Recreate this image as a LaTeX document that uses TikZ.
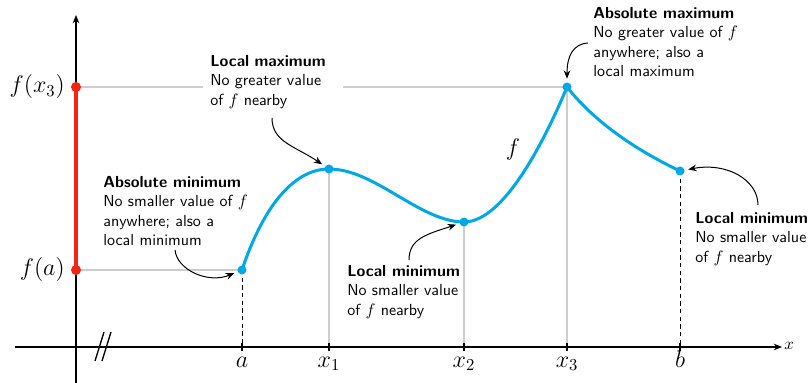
\documentclass[tikz,border=0pt]{standalone}
\usetikzlibrary{arrows.meta}
\definecolor{curvec}{RGB}{0,168,230}
\definecolor{guidec}{RGB}{205,205,205}
\definecolor{redc}{RGB}{245,35,20}
\begin{document}
\begin{tikzpicture}[x=0.6pt,y=-0.6pt,
  txt/.style={font=\sffamily\fontsize{9.6}{11.7}\selectfont, align=left, anchor=north west, inner sep=0pt},
  axis/.style={line width=1.2pt, -{Stealth[length=5pt,width=4pt]}},
  tick/.style={line width=1.2pt},
  guide/.style={guidec, line width=0.9pt},
  drop/.style={dashed, line width=0.6pt, dash pattern=on 2.6pt off 2pt},
  fcurve/.style={curvec, line width=1.8pt},
  ann/.style={line width=0.6pt, -{Stealth[length=5pt,width=4pt]}, shorten >=5pt},
  mlab/.style={font=\Large, inner sep=0pt},
  tlab/.style={font=\Large, anchor=base, inner sep=0pt}]
\useasboundingbox (0,0) rectangle (808,383);

% points of the function
\coordinate (pa) at (242,270);
\coordinate (p1) at (329,169);
\coordinate (p2) at (464,222);
\coordinate (p3) at (567,87);
\coordinate (pb) at (680,171);
% axis points
\coordinate (ta) at (242,347);
\coordinate (t1) at (329,347);
\coordinate (t2) at (464,347);
\coordinate (t3) at (567,347);
\coordinate (tb) at (680,347);
\coordinate (yfa) at (76,270);
\coordinate (yf3) at (76,87);
\coordinate (xs) at (15,347);
\coordinate (xe) at (782,347);
\coordinate (ys) at (76,383);
\coordinate (ye) at (76,15);

% guide lines
\draw[guide] (yfa) -- (pa);
\draw[guide] (yf3) -- (p3);
\draw[guide] (p1) -- (t1);
\draw[guide] (p2) -- (t2);
\draw[guide] (p3) -- (t3);
\draw[drop] (pa) -- (ta);
\draw[drop] (pb) -- (tb);

% axes
\draw[axis] (xs) -- (xe);
\draw[axis] (ys) -- (ye);
\foreach \c in {ta,t1,t2,t3,tb} \draw[tick] ([yshift=-2.5pt]\c) -- ([yshift=2.5pt]\c);
\draw[line width=0.8pt] (104,332) -- (95,361);
\draw[line width=0.8pt] (111,332) -- (102,361);

% range on y axis
\draw[redc, line width=2.4pt] (yfa) -- (yf3);
\fill[redc] (yfa) circle (3pt);
\fill[redc] (yf3) circle (3pt);

% function
\draw[fcurve] (pa) .. controls (262,210) and (292,169) .. (p1)
  .. controls (375,169) and (420,222) .. (p2)
  .. controls (505,222) and (547,135) .. (p3)
  .. controls (596,124) and (640,152) .. (pb);
\foreach \c in {pa,p1,p2,p3,pb} \fill[curvec] (\c) circle (2.7pt);

% labels on axes
\node[mlab, anchor=east] (lfx3) at (65,87) {$f(x_3)$};
\node[mlab, anchor=east] (lfa) at (65,270) {$f(a)$};
\node[tlab] (la) at (242,367) {$a$};
\node[tlab] (lx1) at (329,367) {$x_1$};
\node[tlab] (lx2) at (464,367) {$x_2$};
\node[tlab] (lx3) at (567,367) {$x_3$};
\node[tlab] (lb) at (680,367) {$b$};
\node[inner sep=0pt] (lx) at (789,346) {$x$};
\node[font=\Large, inner sep=0pt] (lf) at (513,150) {$f$};

% annotations
\node[txt] (absmin) at (103,176) {\textbf{Absolute minimum}\\No smaller value of $f$\\anywhere; also a\\local minimum};
\node[txt, fill=white, inner xsep=4.2pt, inner ysep=1pt, text width=75.6pt] (locmax) at (203,53) {\textbf{Local maximum}\\No greater value\\of $f$ nearby};
\node[txt] (locmin) at (347,265) {\textbf{Local minimum}\\No smaller value\\of $f$ nearby};
\node[txt] (absmax) at (593,7) {\textbf{Absolute maximum}\\No greater value of $f$\\anywhere; also a\\local maximum};
\node[txt] (locminb) at (695,212) {\textbf{Local minimum}\\No smaller value\\of $f$ nearby};

\coordinate (s1) at (175,250);
\coordinate (s2) at (272,118);
\coordinate (s3) at (409,260);
\coordinate (s4) at (588,43);
\coordinate (s5) at (758,205);
\draw[ann] (s1) .. controls (177,270) and (208,284) .. (pa);
\draw[ann] (s2) .. controls (272,142) and (295,146) .. (p1);
\draw[ann] (s3) .. controls (409,238) and (428,234) .. (p2);
\draw[ann] (s4) .. controls (573,44) and (567,56) .. (p3);
\draw[ann] (s5) .. controls (758,180) and (727,162) .. (pb);
\end{tikzpicture}
\end{document}
